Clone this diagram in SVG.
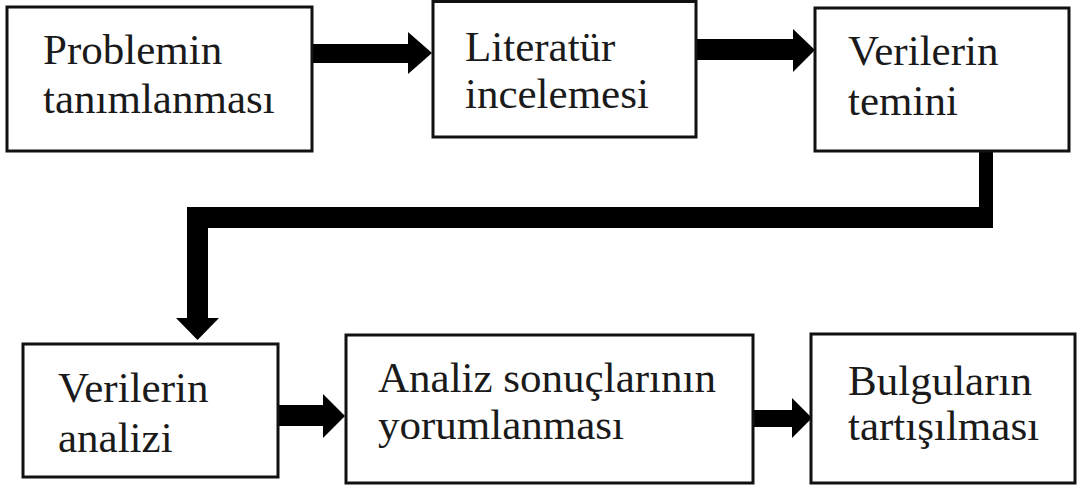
<svg xmlns="http://www.w3.org/2000/svg" width="1080" height="488" viewBox="0 0 1080 488">
<style>
.box{fill:#fff;stroke:#111;stroke-width:3}
.t{font-family:"Liberation Serif","Times New Roman",serif;font-size:43px;fill:#1a1a1a}
.c{fill:#000;stroke:none}
</style>
<rect width="1080" height="488" fill="#fff"/>
<g id="connectors">
<path class="c" d="M312,44 H408 V32 L432,53 L408,74 V63 H312 Z"/>
<path class="c" d="M696,39 H793 V29 L815,50 L793,72 V60 H696 Z"/>
<path class="c" d="M979,151 H993 V228 H208 V318 H219 L197.5,340 L176,318 H187 V207 H979 Z"/>
<path class="c" d="M278,405 H323 V394 L345,416 L323,438 V426 H278 Z"/>
<path class="c" d="M753,410 H792 V398 L812,418 L792,438 V427 H753 Z"/>
</g>
<g id="n1"><rect class="box" x="7" y="7" width="305" height="144"/>
<text class="t" x="43" y="64">Problemin</text><text class="t" x="43" y="113">tanımlanması</text></g>
<g id="n2"><rect class="box" x="433" y="1.5" width="263" height="135.5"/>
<text class="t" x="465" y="61">Literatür</text><text class="t" x="465" y="108">incelemesi</text></g>
<g id="n3"><rect class="box" x="815" y="8" width="254" height="143"/>
<text class="t" x="848" y="65">Verilerin</text><text class="t" x="848" y="115">temini</text></g>
<g id="n4"><rect class="box" x="23" y="344" width="255" height="133"/>
<text class="t" x="58" y="402">Verilerin</text><text class="t" x="58" y="452">analizi</text></g>
<g id="n5"><rect class="box" x="346" y="335" width="407" height="148"/>
<text class="t" x="378" y="392">Analiz sonuçlarının</text><text class="t" x="378" y="439">yorumlanması</text></g>
<g id="n6"><rect class="box" x="811" y="334" width="264" height="149"/>
<text class="t" x="848" y="395">Bulguların</text><text class="t" x="848" y="440">tartışılması</text></g>
</svg>
